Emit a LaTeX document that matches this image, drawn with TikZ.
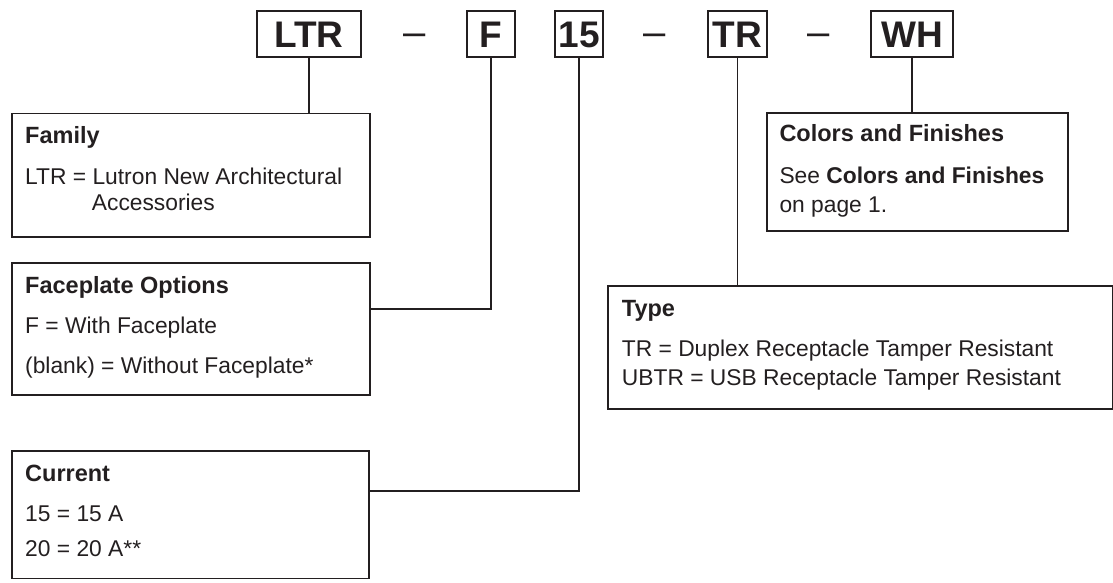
\documentclass[tikz,border=0pt]{standalone}
\usepackage{fontspec}
\setmainfont{Liberation Sans}
\definecolor{ink}{HTML}{231F20}
\begin{document}
\begin{tikzpicture}[x=1pt,y=-1pt, line join=miter,
  box/.style={draw=ink, line width=1.8pt, inner sep=0pt, anchor=north west},
  code/.style={draw=ink, line width=1.8pt, inner sep=0pt, minimum height=46pt, text height=26.5pt, text depth=0pt, font=\fontsize{37}{37}\selectfont\bfseries, text=ink},
  conn/.style={draw=ink, line width=1.6pt},
  ttl/.style={anchor=base west, inner sep=0pt, font=\fontsize{23.5}{28}\selectfont\bfseries, text=ink},
  body/.style={anchor=base west, inner sep=0pt, font=\fontsize{22.8}{28}\selectfont, text=ink},
  dashnode/.style={anchor=base, inner sep=0pt, font=\fontsize{40}{40}\selectfont, text=ink}]
\useasboundingbox (0,0) rectangle (1113,582);

% code boxes
\node[code, minimum width=104pt] (ltr) at (309,34) {LTR};
\node[code, minimum width=48pt] (f) at (491,34) {F};
\node[code, minimum width=48pt] (c15) at (579,34) {15};
\node[code, minimum width=59pt] (tr) at (737.5,34) {TR};
\node[code, minimum width=82pt] (wh) at (912,34) {WH};
\node[dashnode] (d1) at (415,45) {–};
\node[dashnode] (d2) at (655,45) {–};
\node[dashnode] (d3) at (818.5,45) {–};

% description boxes
\node[box, minimum width=358.3pt, minimum height=123.5pt] (family) at (10.7,112.5) {};
\node[box, minimum width=358.3pt, minimum height=131.7pt] (face) at (10.7,262.3) {};
\node[box, minimum width=357.3pt, minimum height=127.5pt] (current) at (10.7,450) {};
\node[box, minimum width=301pt, minimum height=118pt] (colors) at (765.7,112) {};
\node[box, minimum width=504.5pt, minimum height=123.3pt] (type) at (607.3,285) {};

% connectors
\coordinate (fy) at (0,309);
\coordinate (cy) at (0,490.7);
\draw[conn] (ltr.south) -- (ltr.south |- family.north);
\draw[conn] (f.south) |- (face.east |- fy);
\draw[conn] (c15.south) |- (current.east |- cy);
\draw[conn] (tr.south) -- (tr.south |- type.north);
\draw[conn] (wh.south) -- (wh.south |- colors.north);

% texts
\node[ttl] (famt) at (25,143.3) {Family};
\node[body] (fam1) at (25,184) {LTR = Lutron New Architectural};
\node[body] (fam2) at (91.7,210.7) {Accessories};

\node[ttl] (facet) at (25,293.3) {Faceplate Options};
\node[body] (face1) at (25,333.3) {F = With Faceplate};
\node[body] (face2) at (25,373) {(blank) = Without Faceplate*};

\node[ttl] (curt) at (25,481) {Current};
\node[body] (cur1) at (25,521.7) {15 = 15 A};
\node[body] (cur2) at (25,556.7) {20 = 20 A**};

\node[ttl] (colt) at (779.3,141.7) {Colors and Finishes};
\node[body] (col1) at (779.3,183.3) {See \textbf{Colors and Finishes}};
\node[body] (col2) at (779.3,212.3) {on page 1.};

\node[ttl] (typet) at (621.7,316.7) {Type};
\node[body] (type1) at (621.7,356.7) {TR = Duplex Receptacle Tamper Resistant};
\node[body] (type2) at (621.7,385.7) {UBTR = USB Receptacle Tamper Resistant};
\end{tikzpicture}
\end{document}
